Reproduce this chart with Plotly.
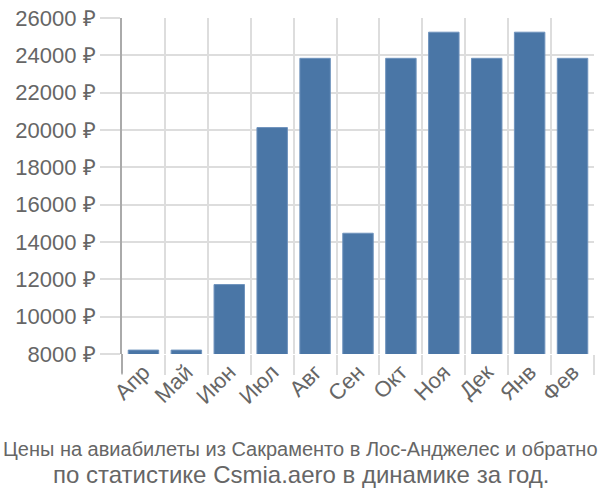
import plotly.graph_objects as go

months = ["Апр", "Май", "Июн", "Июл", "Авг", "Сен", "Окт", "Ноя", "Дек", "Янв", "Фев"]
prices = [8210, 8210, 11720, 20130, 23840, 14470, 23840, 25240, 23840, 25240, 23840]
y_ticks = [8000, 10000, 12000, 14000, 16000, 18000, 20000, 22000, 24000, 26000]
title_lines = ["Цены на авиабилеты из Сакраменто в Лос-Анджелес и обратно",
               "по статистике Csmia.aero в динамике за год."]

font_family = "Liberation Sans, Arial, sans-serif"
grid = "#dddddd"
txt = "#666666"
H_PLOT = 340

fig = go.Figure(go.Bar(
    x=months, y=prices,
    marker=dict(color="#4a76a6", line=dict(color="#6f93bd", width=1)),
    width=0.71,
))

fig.update_layout(
    width=600, height=500,
    margin=dict(l=122, r=6, t=14, b=146),
    paper_bgcolor="white", plot_bgcolor="white",
    showlegend=False,
    font=dict(family=font_family, color=txt, size=22),
    xaxis=dict(
        type="category",
        tickson="boundaries",
        ticks="outside", ticklen=20, tickcolor=grid, tickwidth=2,
        showgrid=True, gridcolor=grid, gridwidth=2,
        tickangle=-45,
        tickfont=dict(size=22, color=txt),
        showline=False, zeroline=False,
    ),
    yaxis=dict(
        range=[8000, 26000],
        tickvals=y_ticks,
        ticktext=[f"{v} ₽" for v in y_ticks],
        ticks="outside", ticklen=20, tickcolor=grid, tickwidth=2,
        showgrid=True, gridcolor=grid, gridwidth=2,
        showline=True, linecolor="#aaaaaa", linewidth=2,
        tickfont=dict(size=22, color=txt),
        zeroline=False,
    ),
    shapes=[dict(type="line", xref="paper", yref="paper",
                 x0=0, x1=0, y0=0, y1=-20 / H_PLOT,
                 line=dict(color="#aaaaaa", width=2))],
    annotations=[
        dict(text=title_lines[0], xref="paper", yref="paper",
             x=(300 - 122) / 472, y=-(450 - 354) / H_PLOT,
             xanchor="center", yanchor="middle", showarrow=False,
             font=dict(size=20, color=txt, family=font_family)),
        dict(text=title_lines[1], xref="paper", yref="paper",
             x=(301 - 122) / 472, y=-(476 - 354) / H_PLOT,
             xanchor="center", yanchor="middle", showarrow=False,
             font=dict(size=24, color=txt, family=font_family)),
    ],
    bargap=0.29,
)

fig.write_html("out.html")
